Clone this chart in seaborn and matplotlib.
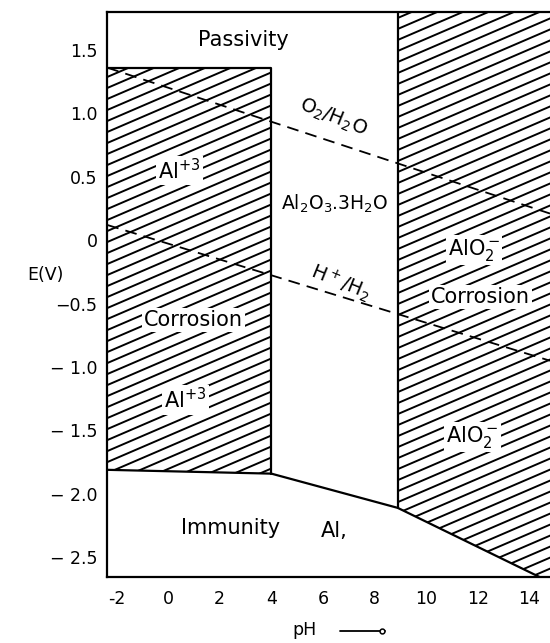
import numpy as np
import pandas as pd
import matplotlib
matplotlib.use("Agg")
import matplotlib.pyplot as plt
import seaborn as sns
from matplotlib.patches import Polygon
from matplotlib.lines import Line2D

# boundaries (pH, E in volts)
ph_lower = [-2.36, 4.0, 8.9, 14.85]
e_lower = [-1.81, -1.84, -2.11, -2.70]
e_passive_top = 1.36
ph_al3_edge = 4.0
ph_alo2_edge = 8.9
ph_water = [-2.36, 14.8]
e_o2_h2o = [1.36, 0.21]
e_h_h2 = [0.12, -0.95]

xticks = [-2, 0, 2, 4, 6, 8, 10, 12, 14]
xtick_labels = ["-2", "0", "2", "4", "6", "8", "10", "12", "14"]
yticks = [1.5, 1.0, 0.5, 0, -0.5, -1.0, -1.5, -2.0, -2.5]
ytick_labels = ["1.5", "1.0", "0.5", "0", "−0.5", "− 1.0", "− 1.5", "− 2.0", "− 2.5"]

xlim = (-2.36, 14.8)
ylim = (-2.655, 1.80)

sns.set_style("white")
plt.rcParams['font.family'] = ['DejaVu Sans']
plt.rcParams['text.color'] = 'black'
plt.rcParams['xtick.color'] = 'black'
plt.rcParams['ytick.color'] = 'black'

fig = plt.figure(figsize=(5.5, 6.43), dpi=100)
ax = fig.add_axes([0.195, 0.1026, 0.805, 0.879])
ax.set_xlim(*xlim)
ax.set_ylim(*ylim)

# hatch slope / spacing in data units (pixel slope ~0.43, ~11 px apart vertically)
px_x = 443 / (xlim[1] - xlim[0])
px_y = 565 / (ylim[1] - ylim[0])
h_slope = 0.43 * px_x / px_y
h_step = 11 / px_y


def hatch(ax, xs, ys):
    poly = Polygon(np.column_stack([xs, ys]), closed=True, fill=False, lw=0)
    ax.add_patch(poly)
    x0, x1 = xlim[0] - 1, xlim[1] + 1
    for c in np.arange(-6.0, 4.0, h_step):
        ln, = ax.plot([x0, x1], [c, c + h_slope * (x1 - x0)], color='black', lw=1.4,
                      solid_capstyle='butt')
        ln.set_clip_path(poly)


# Al+3 corrosion region (left)
hatch(ax,
      [xlim[0], ph_al3_edge, ph_al3_edge, xlim[0]],
      [e_passive_top, e_passive_top, e_lower[1], e_lower[0]])
# AlO2- corrosion region (right)
hatch(ax,
      [ph_alo2_edge, xlim[1] + 0.5, xlim[1] + 0.5, ph_lower[3], ph_alo2_edge],
      [ylim[1] + 0.5, ylim[1] + 0.5, e_lower[3], e_lower[3], e_lower[2]])
ax.set_xlim(*xlim)
ax.set_ylim(*ylim)

# solid region boundaries
sns.lineplot(x=ph_lower, y=e_lower, ax=ax, color='black', lw=1.6, sort=False, estimator=None)
sns.lineplot(x=[xlim[0], ph_al3_edge, ph_al3_edge], y=[e_passive_top, e_passive_top, e_lower[1]],
             ax=ax, color='black', lw=1.6, sort=False, estimator=None)
sns.lineplot(x=[ph_alo2_edge, ph_alo2_edge], y=[ylim[1], e_lower[2]], ax=ax, color='black', lw=1.6,
             sort=False, estimator=None)

# water stability lines
sns.lineplot(x=ph_water, y=e_o2_h2o, ax=ax, color='black', lw=1.3, linestyle=(0, (6.5, 4)))
sns.lineplot(x=ph_water, y=e_h_h2, ax=ax, color='black', lw=1.3, linestyle=(0, (6.5, 4)))

box = dict(facecolor='white', edgecolor='none', pad=1.5)
fs = 15
ax.text(2.9, 1.58, "Passivity", fontsize=fs, ha='center', va='center')
ax.text(0.45, 0.55, "Al$^{+3}$", fontsize=fs, ha='center', va='center', bbox=box)
ax.text(0.97, -0.63, "Corrosion", fontsize=fs, ha='center', va='center', bbox=box)
ax.text(0.66, -1.26, "Al$^{+3}$", fontsize=fs, ha='center', va='center', bbox=box)
ax.text(6.43, 0.29, "Al$_2$O$_3$.3H$_2$O", fontsize=13.5, ha='center', va='center')
ax.text(6.4, 0.97, "O$_2$/H$_2$O", fontsize=14, ha='center', va='center', rotation=-22)
ax.text(6.67, -0.33, "H$^+$/H$_2$", fontsize=14, ha='center', va='center', rotation=-22)
ax.text(11.86, -0.08, "AlO$_2^-$", fontsize=fs, ha='center', va='center', bbox=box)
ax.text(12.1, -0.45, "Corrosion", fontsize=fs, ha='center', va='center', bbox=box)
ax.text(11.8, -1.55, "AlO$_2^-$", fontsize=fs, ha='center', va='center', bbox=box)
ax.text(2.4, -2.27, "Immunity", fontsize=fs, ha='center', va='center')
ax.text(6.43, -2.29, "Al,", fontsize=fs, ha='center', va='center')

ax.set_xticks(xticks)
ax.set_xticklabels(xtick_labels, fontsize=12.5)
ax.set_xticks(np.arange(-1, 15, 2), minor=True)
ax.set_yticks(yticks)
ax.set_yticklabels(ytick_labels, fontsize=12.5)
ax.tick_params(axis='x', which='major', direction='in', length=5, width=1.3, pad=9)
ax.tick_params(axis='x', which='minor', direction='in', length=3.5, width=1.3)
ax.tick_params(axis='y', direction='in', length=5, width=1.3, pad=7)

for side in ['left', 'top', 'bottom']:
    ax.spines[side].set_visible(True)
    ax.spines[side].set_color('black')
    ax.spines[side].set_linewidth(1.6)
ax.spines['right'].set_visible(False)

ax.set_xlabel("")
ax.set_ylabel("")
fig.text(45 / 550, 1 - 275 / 643, "E(V)", fontsize=12.5, ha='center', va='center')
fig.text(305 / 550, 1 - 630 / 643, "pH", fontsize=12.5, ha='center', va='center')
fig.add_artist(Line2D([340 / 550, 385 / 550], [1 - 631 / 643, 1 - 631 / 643], color='black', lw=1.3))
fig.add_artist(Line2D([382 / 550], [1 - 631 / 643], color='black', marker='o', markersize=3.5,
                      markerfacecolor='white', markeredgewidth=1.1))

fig.savefig("out.png", dpi=100, facecolor='white')
